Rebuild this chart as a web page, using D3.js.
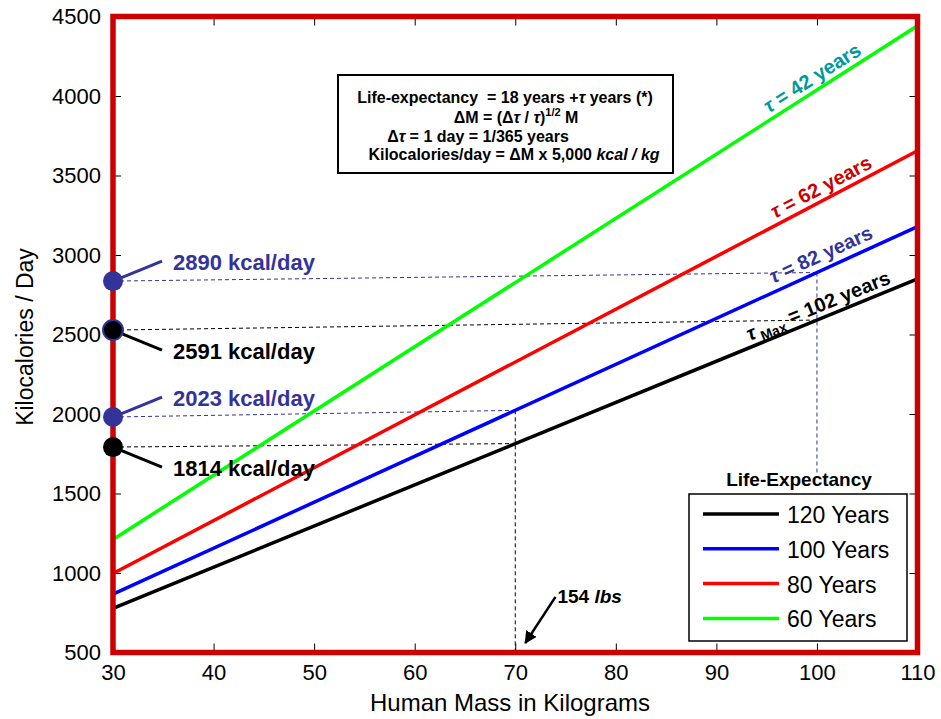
<!DOCTYPE html>
<html>
<head>
<meta charset="utf-8">
<script src="https://cdn.jsdelivr.net/npm/d3@7"></script>
<style>
  body { margin: 0; background: #fff; }
  svg { display: block; font-family: "Liberation Sans", Arial, sans-serif; }
</style>
</head>
<body>
<svg id="chart"></svg>
<script>
// ---- data ----
const massTicks = [30, 40, 50, 60, 70, 80, 90, 100, 110];
const kcalTicks = [500, 1000, 1500, 2000, 2500, 3000, 3500, 4000, 4500];

const lineMass   = [30, 110];            // every line is straight: end points only
const kcal120yrs = [777, 2850];
const kcal100yrs = [867, 3179];
const kcal80yrs  = [997, 3656];
const kcal60yrs  = [1211, 4442];

const legendNames = ["120 Years", "100 Years", "80 Years", "60 Years"];
const lineColors  = ["#000000", "#0000ff", "#ff0000", "#00ff00"];
const tauYears    = ["102", "82", "62", "42"];
const tauColors   = ["#000000", "#333399", "#cc0000", "#009999"];
const tauLabelAt  = [100.6, 101.0, 101.0, 100.2];   // mass where each tau label sits

const calloutText  = ["2890 kcal/day", "2591 kcal/day", "2023 kcal/day", "1814 kcal/day"];
const calloutDot   = [2836, 2528, 1981, 1792];     // dot on the y axis
const calloutMass  = [100, 100, 70, 70];           // where the dashed line meets a curve
const calloutKcal  = [2890, 2591, 2023, 1814];
const calloutColor = ["#333399", "#000000", "#333399", "#000000"];

const dropMass = [70, 100];
const dropFrom = [2023, 2890];
const dropTo   = [500, 1620];
const dropColor = ["#000000", "#333399"];

const arrowFrom = [74, 850];
const arrowTo   = [71, 560];

// ---- chart ----
const width = 941, height = 719;
const svg = d3.select("#chart").attr("width", width).attr("height", height);

const x = d3.scaleLinear().domain([30, 110]).range([113, 917.5]);
const y = d3.scaleLinear().domain([500, 4500]).range([652.5, 16.5]);

const series = [kcal120yrs, kcal100yrs, kcal80yrs, kcal60yrs];

// ticks, all inward
const axisFont = (g) => g.selectAll("text")
  .attr("font-size", 22).attr("fill", "#000").attr("font-family", "Liberation Sans, Arial, sans-serif");

svg.append("g").attr("transform", `translate(0,${y(500)})`)
  .call(d3.axisBottom(x).tickValues(massTicks).tickFormat(d3.format("d"))
    .tickSizeInner(-9).tickSizeOuter(0).tickPadding(12))
  .call(g => g.select(".domain").remove())
  .call(axisFont);
svg.append("g").attr("transform", `translate(${x(30)},0)`)
  .call(d3.axisLeft(y).tickValues(kcalTicks).tickFormat(d3.format("d"))
    .tickSizeInner(-8).tickSizeOuter(0).tickPadding(12))
  .call(g => g.select(".domain").remove())
  .call(axisFont);
svg.append("g").attr("transform", `translate(0,${y(4500)})`)
  .call(d3.axisTop(x).tickValues(massTicks).tickSizeInner(-9).tickSizeOuter(0).tickFormat(""))
  .call(g => g.select(".domain").remove());
svg.append("g").attr("transform", `translate(${x(110)},0)`)
  .call(d3.axisRight(y).tickValues(kcalTicks).tickSizeInner(-8).tickSizeOuter(0).tickFormat(""))
  .call(g => g.select(".domain").remove());

// axis titles
svg.append("text")
  .attr("x", 510).attr("y", 711)
  .attr("text-anchor", "middle").attr("font-size", 24)
  .text("Human Mass in Kilograms");
svg.append("text")
  .attr("transform", `translate(33,${337}) rotate(-90)`)
  .attr("text-anchor", "middle").attr("font-size", 23)
  .text("Kilocalories / Day");

// dashed guide lines
const guides = svg.append("g").attr("fill", "none").attr("stroke-width", 1).attr("stroke-dasharray", "4,3");
calloutText.forEach((t, i) => {
  guides.append("line")
    .attr("x1", x(30)).attr("y1", y(calloutDot[i]))
    .attr("x2", x(calloutMass[i])).attr("y2", y(calloutKcal[i]))
    .attr("stroke", calloutColor[i]);
});
dropMass.forEach((m, i) => {
  guides.append("line")
    .attr("x1", x(m)).attr("y1", y(dropFrom[i]))
    .attr("x2", x(m)).attr("y2", y(dropTo[i]))
    .attr("stroke", dropColor[i]);
});

// the four lines
const line = d3.line().x((d, i) => x(lineMass[i])).y(d => y(d));
svg.append("g").selectAll("path")
  .data(series)
  .join("path")
  .attr("d", d => line(d))
  .attr("fill", "none")
  .attr("stroke", (d, i) => lineColors[i])
  .attr("stroke-width", 3.5);

// tau labels along the lines
series.forEach((s, i) => {
  const slope = (s[1] - s[0]) / (lineMass[1] - lineMass[0]);
  const m = tauLabelAt[i];
  const v = s[0] + slope * (m - lineMass[0]);
  const angle = Math.atan2(y(s[1]) - y(s[0]), x(lineMass[1]) - x(lineMass[0])) * 180 / Math.PI;
  const t = svg.append("text")
    .attr("transform", `translate(${x(m)},${y(v)}) rotate(${angle})`)
    .attr("y", i === 1 ? -8 : -6)
    .attr("text-anchor", "middle")
    .attr("font-size", 20).attr("font-weight", "bold")
    .attr("fill", tauColors[i]);
  t.append("tspan").attr("font-style", "italic").text("τ");
  if (i === 0) {
    t.append("tspan").attr("font-size", 14).attr("dx", 4).attr("dy", 5).text("Max");
    t.append("tspan").attr("dy", -5).text(" = " + tauYears[i] + " years");
  } else {
    t.append("tspan").text(" = " + tauYears[i] + " years");
  }
});

// red frame
svg.append("rect")
  .attr("x", x(30)).attr("y", y(4500))
  .attr("width", x(110) - x(30)).attr("height", y(500) - y(4500))
  .attr("fill", "none").attr("stroke", "#cc0000").attr("stroke-width", 5.5);

// callouts on the y axis
calloutText.forEach((t, i) => {
  const cy = y(calloutDot[i]);
  const up = (i % 2 === 0) ? -1 : 1;
  svg.append("line")
    .attr("x1", x(30)).attr("y1", cy)
    .attr("x2", x(30) + 49).attr("y2", cy + up * 20)
    .attr("stroke", calloutColor[i]).attr("stroke-width", 3);
  svg.append("circle")
    .attr("cx", x(30)).attr("cy", cy).attr("r", 10)
    .attr("fill", calloutColor[i])
    .attr("stroke", i === 1 ? "#333399" : "none").attr("stroke-width", 2);
  svg.append("text")
    .attr("x", x(30) + 60)
    .attr("y", up < 0 ? cy - 11 : cy + 29)
    .attr("font-size", 22).attr("font-weight", "bold")
    .attr("fill", calloutColor[i])
    .text(t);
});

// formula box
const box = svg.append("g");
box.append("rect").attr("x", 338).attr("y", 75).attr("width", 335).attr("height", 98)
  .attr("fill", "#fff").attr("stroke", "#000").attr("stroke-width", 2);
const bt = box.append("g").attr("font-size", 16).attr("font-weight", "bold").attr("text-anchor", "middle");
{
  const l1 = bt.append("text").attr("x", 505).attr("y", 103).attr("xml:space", "preserve");
  l1.append("tspan").text("Life-expectancy  = 18 years +");
  l1.append("tspan").attr("font-style", "italic").text("τ");
  l1.append("tspan").text(" years (*)");

  const l2 = bt.append("text").attr("x", 516).attr("y", 123);
  l2.append("tspan").text("ΔM = (Δ");
  l2.append("tspan").attr("font-style", "italic").text("τ");
  l2.append("tspan").text(" / ");
  l2.append("tspan").attr("font-style", "italic").text("τ");
  l2.append("tspan").text(")");
  l2.append("tspan").attr("font-size", 11).attr("dy", -7).text("1/2");
  l2.append("tspan").attr("dy", 7).text(" M");

  const l3 = bt.append("text").attr("x", 478).attr("y", 142);
  l3.append("tspan").text("Δ");
  l3.append("tspan").attr("font-style", "italic").text("τ");
  l3.append("tspan").text(" = 1 day = 1/365 years");

  const l4 = bt.append("text").attr("x", 514).attr("y", 160);
  l4.append("tspan").text("Kilocalories/day = ΔM x 5,000 ");
  l4.append("tspan").attr("font-style", "italic").text("kcal / kg");
}

// 154 lbs arrow
const defs = svg.append("defs");
defs.append("marker").attr("id", "head")
  .attr("viewBox", "0 0 10 10").attr("refX", 9).attr("refY", 5)
  .attr("markerWidth", 5).attr("markerHeight", 5).attr("orient", "auto")
  .append("path").attr("d", "M0,0 L10,5 L0,10 z").attr("fill", "#000");
svg.append("line")
  .attr("x1", x(arrowFrom[0])).attr("y1", y(arrowFrom[1]))
  .attr("x2", x(arrowTo[0])).attr("y2", y(arrowTo[1]))
  .attr("stroke", "#000").attr("stroke-width", 2.5).attr("marker-end", "url(#head)");
const lbs = svg.append("text")
  .attr("x", x(arrowFrom[0]) + 2).attr("y", y(arrowFrom[1]) + 6)
  .attr("font-size", 19).attr("font-weight", "bold");
lbs.append("tspan").text("154 ");
lbs.append("tspan").attr("font-style", "italic").text("lbs");

// legend
const lg = svg.append("g");
lg.append("text").attr("x", 799).attr("y", 486).attr("text-anchor", "middle")
  .attr("font-size", 19).attr("font-weight", "bold").text("Life-Expectancy");
lg.append("rect").attr("x", 689).attr("y", 494).attr("width", 218).attr("height", 147)
  .attr("fill", "#fff").attr("stroke", "#000").attr("stroke-width", 1.5);
legendNames.forEach((name, i) => {
  const ly = 514 + i * 34.8;
  lg.append("line").attr("x1", 703).attr("x2", 779).attr("y1", ly).attr("y2", ly)
    .attr("stroke", lineColors[i]).attr("stroke-width", 3.5);
  lg.append("text").attr("x", 787).attr("y", ly + 9)
    .attr("font-size", 23).text(name);
});
</script>
</body>
</html>
